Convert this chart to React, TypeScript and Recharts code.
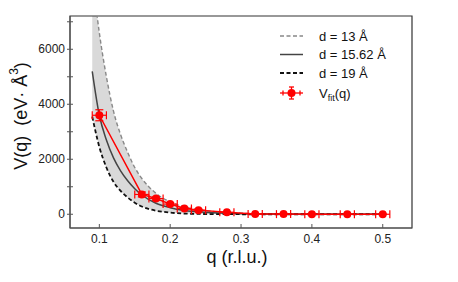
import {
  ComposedChart,
  Area,
  Line,
  Scatter,
  ErrorBar,
  XAxis,
  YAxis,
  Legend,
  ReferenceArea,
} from 'recharts'

// model curves, values
const qCurve = [0.09, 0.1, 0.11, 0.12, 0.13, 0.14, 0.15, 0.16, 0.18, 0.2, 0.22, 0.25, 0.3, 0.35, 0.4, 0.45, 0.5]
const v13 = [8700, 6600, 5000, 3750, 2900, 2250, 1700, 1300, 760, 450, 270, 130, 40, 12, 4, 1, 0]
const v1562 = [5200, 3600, 2700, 2050, 1580, 1220, 930, 700, 400, 240, 140, 70, 20, 5, 2, 0, 0]
const v19 = [3550, 2450, 1700, 1180, 850, 610, 420, 280, 130, 60, 25, 8, 1, 0, 0, 0, 0]

// fitted points
const qFit = [0.1, 0.16, 0.18, 0.2, 0.22, 0.24, 0.28, 0.32, 0.36, 0.4, 0.45, 0.5]
const vFit = [3600, 720, 570, 370, 210, 150, 70, 10, 5, 3, 2, 0]
const qErr = [0.01, 0.01, 0.01, 0.01, 0.01, 0.01, 0.01, 0.01, 0.01, 0.01, 0.01, 0.01]
const vErr = [200, 90, 60, 50, 40, 30, 20, 10, 10, 10, 10, 10]

const xTicks = [0.1, 0.2, 0.3, 0.4, 0.5]
const yTicks = [0, 1000, 2000, 3000, 4000, 5000, 6000, 7000]
const yLabeled = [0, 2000, 4000, 6000]

const X_DOMAIN: [number, number] = [0.0586, 0.5413]
const Y_DOMAIN: [number, number] = [-500, 7210]

const curveData = qCurve.map((q, i) => ({
  q,
  d13: v13[i],
  d1562: v1562[i],
  d19: v19[i],
  band: [v19[i], v13[i]],
}))

const fitData = qFit.map((q, i) => ({ q, v: vFit[i], ex: qErr[i], ey: vErr[i] }))

const PLOT_LEFT = 70
const PLOT_BOTTOM = 228
const AXIS = '#555'
const FONT = 'Liberation Sans, Arial, sans-serif'

function YTick(props: any) {
  const { y, payload } = props
  const show = yLabeled.includes(payload.value)
  return (
    <g>
      <line x1={PLOT_LEFT - 3} x2={PLOT_LEFT + 3} y1={y} y2={y} stroke={AXIS} />
      {show && (
        <text x={PLOT_LEFT - 5} y={y} dy={4} textAnchor="end" fontSize={12} fill="#222" fontFamily={FONT}>
          {payload.value}
        </text>
      )}
    </g>
  )
}

function XTick(props: any) {
  const { x, payload } = props
  return (
    <g>
      <line x1={x} x2={x} y1={PLOT_BOTTOM} y2={PLOT_BOTTOM - 4} stroke={AXIS} />
      <text x={x} y={PLOT_BOTTOM + 15} textAnchor="middle" fontSize={12} fill="#222" fontFamily={FONT}>
        {payload.value.toFixed(1)}
      </text>
    </g>
  )
}

function LegendBox() {
  const rows = [
    { label: 'd = 13 Å', stroke: '#888', dash: '4 2.5', w: 1.4 },
    { label: 'd = 15.62 Å', stroke: '#444', dash: undefined, w: 1.5 },
    { label: 'd = 19 Å', stroke: '#111', dash: '4 2.5', w: 1.8 },
  ]
  return (
    <svg width={140} height={84} style={{ display: 'block' }}>
      {rows.map((r, i) => (
        <g key={i}>
          <line x1={5} x2={28} y1={12 + i * 18.5} y2={12 + i * 18.5} stroke={r.stroke} strokeWidth={r.w} strokeDasharray={r.dash} />
          <text x={44} y={12 + i * 18.5 + 4.5} fontSize={13} fill="#111" fontFamily={FONT}>
            {r.label}
          </text>
        </g>
      ))}
      <g stroke="#ff0000" strokeWidth={1.3}>
        <line x1={5} x2={28} y1={69} y2={69} />
        <line x1={8} x2={8} y1={66.5} y2={71.5} />
        <line x1={25} x2={25} y1={66.5} y2={71.5} />
        <line x1={16.5} x2={16.5} y1={63} y2={75} />
        <line x1={14} x2={19} y1={63} y2={63} />
        <line x1={14} x2={19} y1={75} y2={75} />
      </g>
      <circle cx={16.5} cy={69} r={4} fill="#ff0000" />
      <text x={44} y={73.5} fontSize={13} fill="#111" fontFamily={FONT}>
        V<tspan fontSize={9} dy={3}>fit</tspan>
        <tspan dy={-3}>(q)</tspan>
      </text>
    </svg>
  )
}

export default function App() {
  return (
    <div style={{ position: 'absolute', left: 0, top: 0 }}>
      <ComposedChart width={458} height={282} margin={{ top: 16, right: 46, bottom: 0, left: 10 }}>
        <XAxis
          dataKey="q"
          type="number"
          domain={X_DOMAIN}
          allowDataOverflow
          ticks={xTicks}
          tick={<XTick />}
          tickLine={false}
          axisLine={{ stroke: AXIS }}
          height={54}
          label={{
            content: () => (
              <text x={237} y={263} textAnchor="middle" fontSize={18} fill="#111" fontFamily={FONT}>
                q (r.l.u.)
              </text>
            ),
          }}
        />
        <YAxis
          type="number"
          domain={Y_DOMAIN}
          allowDataOverflow
          ticks={yTicks}
          tick={<YTick />}
          tickLine={false}
          axisLine={{ stroke: AXIS }}
          width={60}
          label={{
            content: () => (
              <text
                x={22}
                y={116}
                transform="rotate(-90 22 116)"
                textAnchor="middle"
                dominantBaseline="middle"
                fontSize={18}
                fill="#111"
                fontFamily={FONT}
              >
                {'V(q)\u00a0\u00a0(eV· Å'}
                <tspan fontSize={12} dy={-7}>3</tspan>
                <tspan dy={7}>)</tspan>
              </text>
            ),
          }}
        />
        <Area
          data={curveData}
          dataKey="band"
          type="monotone"
          stroke="none"
          fill="#d9d9d9"
          fillOpacity={1}
          isAnimationActive={false}
        />
        <Line data={curveData} dataKey="d13" type="monotone" stroke="#888" strokeWidth={1.4} strokeDasharray="4 2.5" dot={false} isAnimationActive={false} />
        <Line data={curveData} dataKey="d1562" type="monotone" stroke="#444" strokeWidth={1.5} dot={false} isAnimationActive={false} />
        <Line data={curveData} dataKey="d19" type="monotone" stroke="#111" strokeWidth={1.8} strokeDasharray="4 2.5" dot={false} isAnimationActive={false} />
        <Scatter
          data={fitData}
          dataKey="v"
          fill="#ff0000"
          line={{ stroke: '#ff0000', strokeWidth: 1.5 }}
          lineType="joint"
          shape={(p: any) => <circle cx={p.cx} cy={p.cy} r={4} fill="#ff0000" />}
          isAnimationActive={false}
        >
          <ErrorBar dataKey="ex" direction="x" width={4} stroke="#ff0000" strokeWidth={1.2} />
          <ErrorBar dataKey="ey" direction="y" width={4} stroke="#ff0000" strokeWidth={1.2} />
        </Scatter>
        <ReferenceArea x1={X_DOMAIN[0]} x2={X_DOMAIN[1]} y1={Y_DOMAIN[0]} y2={Y_DOMAIN[1]} fill="none" stroke="#333" strokeWidth={1.2} />
        <Legend
          layout="horizontal"
          verticalAlign="middle"
          align="center"
          wrapperStyle={{ left: 275, top: 24, width: 140, height: 84 }}
          content={() => <LegendBox />}
        />
      </ComposedChart>
    </div>
  )
}
